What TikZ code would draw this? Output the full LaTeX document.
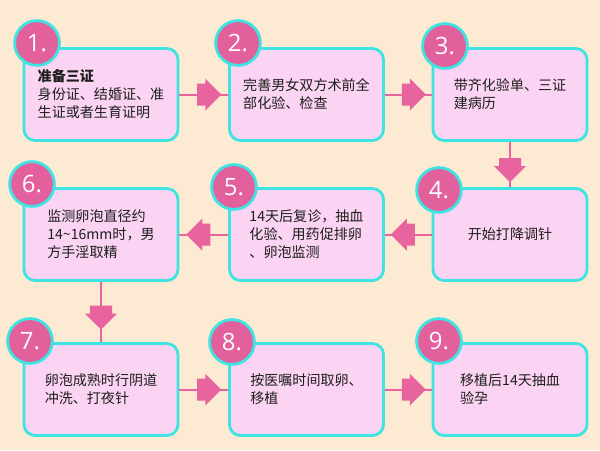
\documentclass[tikz,border=0pt]{standalone}
\usepackage{fontspec}
\setmainfont{Noto Sans CJK SC}
\newfontfamily\numfont{Open Sans}
\usetikzlibrary{shapes.arrows}
\definecolor{bgpeach}{RGB}{252,234,210}
\definecolor{boxpink}{RGB}{250,212,242}
\definecolor{rimcyan}{RGB}{62,228,226}
\definecolor{dotpink}{RGB}{226,96,156}
\definecolor{linkpink}{RGB}{232,100,158}
\definecolor{inkgray}{RGB}{30,30,30}
\tikzset{
  stepbox/.style={draw=rimcyan, line width=0.07cm, fill=boxpink, rounded corners=0.28cm,
    minimum width=3.85cm, minimum height=2.3cm, inner sep=0pt, align=left, text=inkgray,
    font=\fontsize{10pt}{12.8pt}\selectfont},
  numdot/.style={circle, draw=rimcyan, line width=0.07cm, fill=dotpink, minimum size=1.12cm,
    inner sep=0pt, text=white, font=\numfont\fontsize{17pt}{17pt}\selectfont},
  link/.style={draw=linkpink, line width=0.05cm},
  fatarrow/.style={single arrow, fill=linkpink, draw=none, inner xsep=0pt, inner ysep=0.25cm,
    minimum height=0.6cm, single arrow head extend=0.125cm, sloped, allow upside down}
}
\begin{document}
\begin{tikzpicture}[x=0.025cm,y=-0.025cm]
\fill[bgpeach] (0,0) rectangle (600,450);
\node[stepbox] (s1) at (101,94.5) {\textbf{准备三证}\\身份证、结婚证、准\\生证或者生育证明};
\node[stepbox] (s2) at (306.5,94.5) {完善男女双方术前全\\部化验、检查};
\node[stepbox] (s3) at (510,94.5) {带齐化验单、三证\\建病历};
\node[stepbox] (s4) at (510,234.5) {开始打降调针};
\node[stepbox] (s5) at (306.5,234.5) {14天后复诊，抽血\\化验、用药促排卵\\、卵泡监测};
\node[stepbox] (s6) at (101,234.5) {监测卵泡直径约\\14\textasciitilde16mm时，男\\方手淫取精};
\node[stepbox] (s7) at (101,389.5) {卵泡成熟时行阴道\\冲洗、打夜针};
\node[stepbox] (s8) at (306.5,389.5) {按医嘱时间取卵、\\移植};
\node[stepbox] (s9) at (510,389.5) {移植后14天抽血\\验孕};
\draw[link] (s1) -- node[fatarrow]{} (s2);
\draw[link] (s2) -- node[fatarrow]{} (s3);
\draw[link] (s3) -- node[fatarrow]{} (s4);
\draw[link] (s4) -- node[fatarrow]{} (s5);
\draw[link] (s5) -- node[fatarrow]{} (s6);
\draw[link] (s6) -- node[fatarrow]{} (s7);
\draw[link] (s7) -- node[fatarrow]{} (s8);
\draw[link] (s8) -- node[fatarrow]{} (s9);
\node[numdot] (n1) at (37,43) {1.};
\node[numdot] (n2) at (238,43) {2.};
\node[numdot] (n3) at (445,46) {3.};
\node[numdot] (n4) at (439,190) {4.};
\node[numdot] (n5) at (234,187) {5.};
\node[numdot] (n6) at (32,184) {6.};
\node[numdot] (n7) at (30,341) {7.};
\node[numdot] (n8) at (232,342) {8.};
\node[numdot] (n9) at (439,341) {9.};
\end{tikzpicture}
\end{document}
